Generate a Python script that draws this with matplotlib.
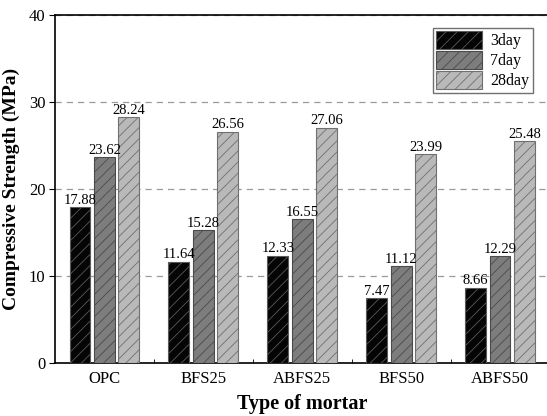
import numpy as np
import matplotlib.pyplot as plt
from matplotlib.ticker import FixedLocator

plt.rcParams['font.family'] = ['Liberation Serif', 'DejaVu Serif']
plt.rcParams['hatch.linewidth'] = 0.6

mortars = ['OPC', 'BFS25', 'ABFS25', 'BFS50', 'ABFS50']
ages = ['3day', '7day', '28day']
day3 = [17.88, 11.64, 12.33, 7.47, 8.66]
day7 = [23.62, 15.28, 16.55, 11.12, 12.29]
day28 = [28.24, 26.56, 27.06, 23.99, 25.48]

faces = ['#050505', '#7d7d7d', '#b9b9b9']
hatch_cols = ['#5a5a5a', '#4a4a4a', '#707070']

fig = plt.figure(figsize=(5.47, 4.16), dpi=100)
ax = fig.add_axes([0.1005, 0.1274, 0.904, 0.8366])

x = np.arange(len(mortars))
w = 0.212
step = 0.247
for i, (vals, lab) in enumerate(zip([day3, day7, day28], ages)):
    pos = x + (i - 1) * step
    bars = ax.bar(pos, vals, w, color=faces[i], edgecolor=hatch_cols[i],
                  hatch='///', linewidth=0.8, label=lab, zorder=3)
    for b, v in zip(bars, vals):
        ax.text(b.get_x() + b.get_width() / 2, v + 0.05, '%.2f' % v,
                ha='center', va='bottom', fontsize=10.5, zorder=4)

ax.set_xlim(-0.5, 4.5)
ax.set_ylim(0, 40)
ax.set_yticks([0, 10, 20, 30, 40])
ax.set_xticks(x)
ax.set_xticklabels(mortars, fontsize=12)
ax.xaxis.set_minor_locator(FixedLocator([0.5, 1.5, 2.5, 3.5]))
ax.tick_params(axis='x', which='major', length=0, pad=6)
ax.tick_params(axis='x', which='minor', direction='in', length=3)
ax.tick_params(axis='y', direction='out', length=4, labelsize=12, pad=3)
ax.yaxis.grid(True, linestyle=(0, (5, 4)), color='#9a9a9a', linewidth=0.9, zorder=0)
ax.set_axisbelow(True)
for s in ax.spines.values():
    s.set_linewidth(1.2)

ax.set_xlabel('Type of mortar', fontsize=14.5, fontweight='bold', labelpad=5)
ax.set_ylabel('Compressive Strength (MPa)', fontsize=14, fontweight='bold', labelpad=6)

leg = ax.legend(loc='upper right', bbox_to_anchor=(0.982, 0.985), fontsize=11.5,
                fancybox=False, edgecolor='#707070', framealpha=1,
                handlelength=2.9, handleheight=1.3, labelspacing=0.12,
                borderpad=0.2, handletextpad=0.5)
leg.get_frame().set_linewidth(1.0)

fig.savefig('out.png', dpi=100)
